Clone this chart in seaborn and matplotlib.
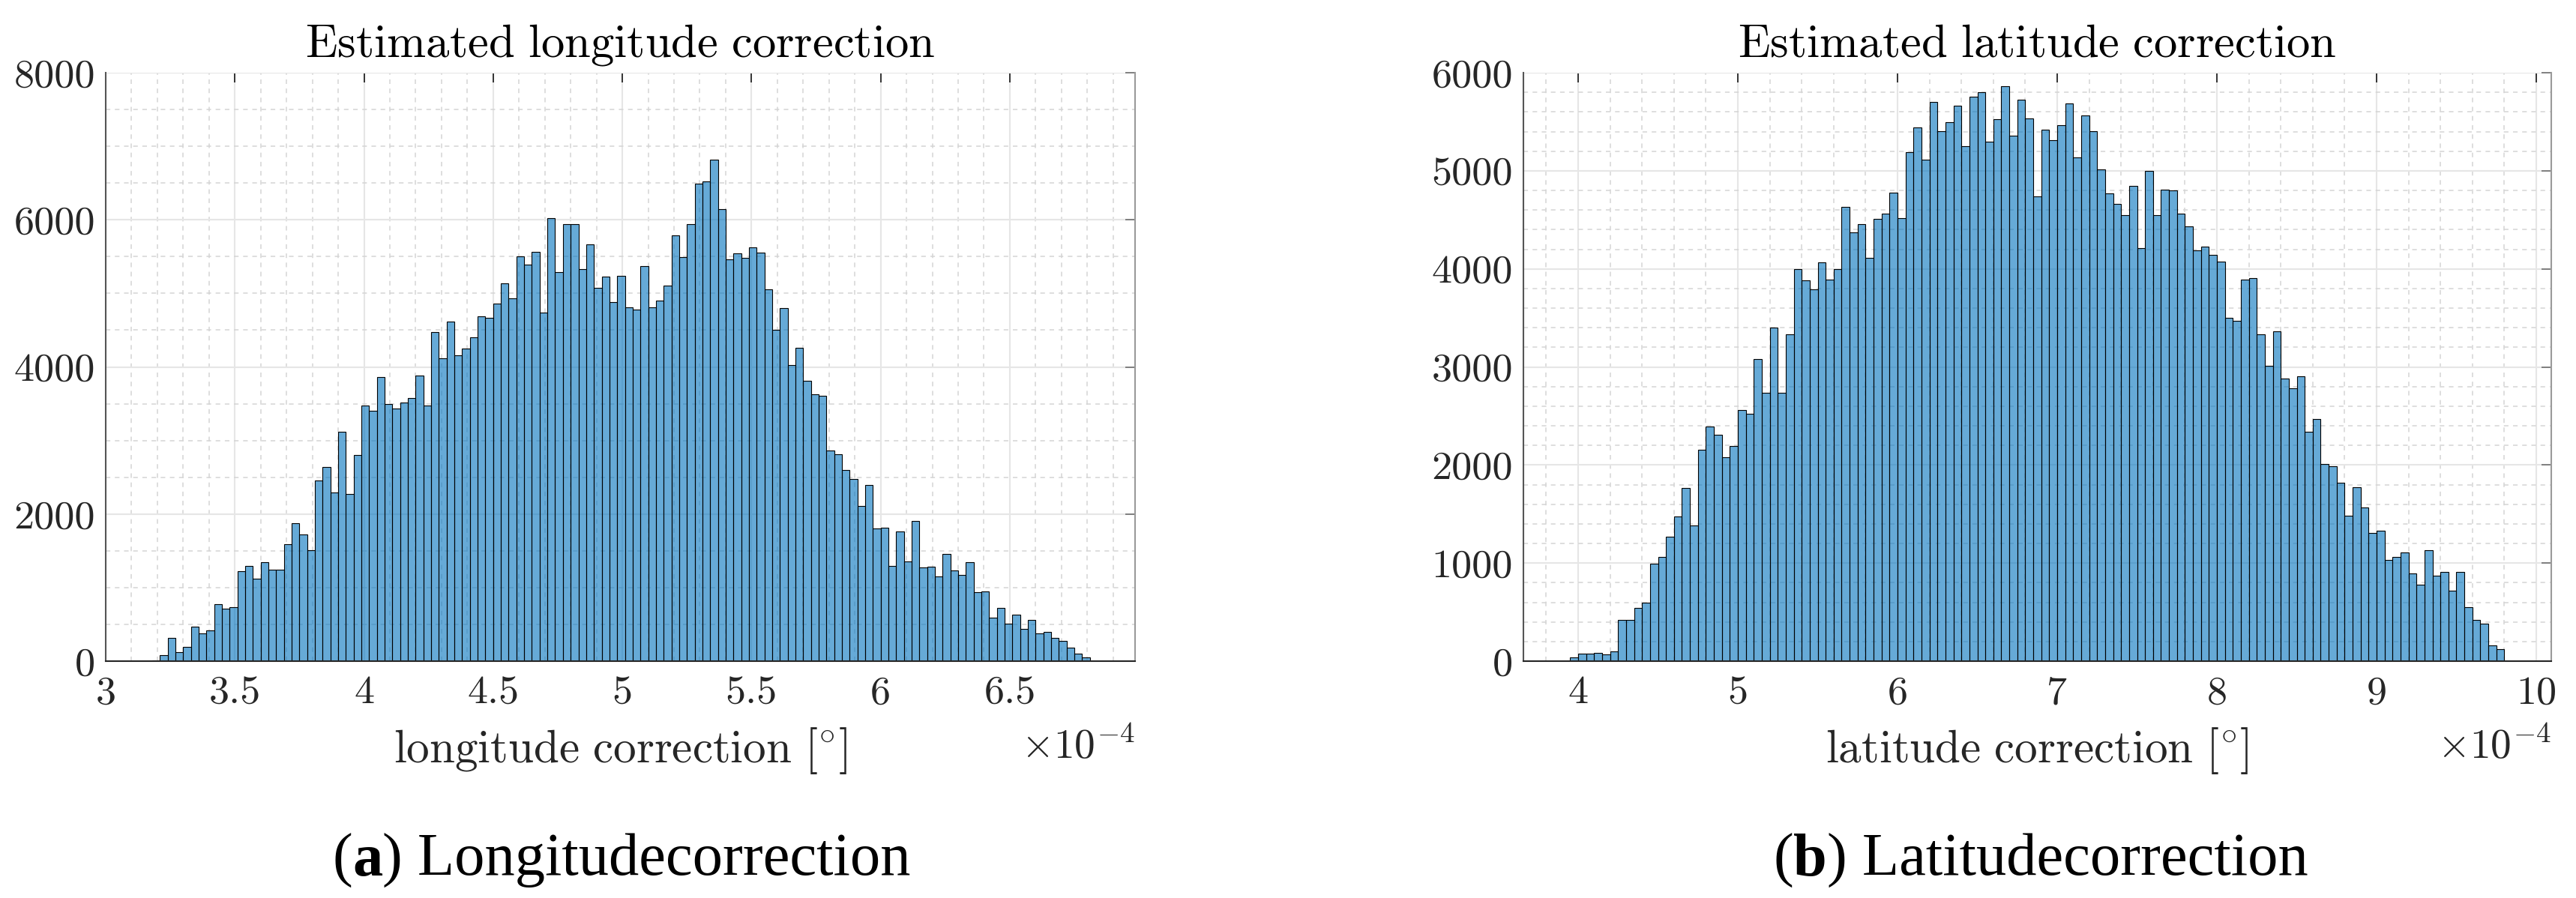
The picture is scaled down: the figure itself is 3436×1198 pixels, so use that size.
import numpy as np
import pandas as pd
import matplotlib
matplotlib.use("Agg")
import matplotlib.pyplot as plt
import seaborn as sns
from matplotlib.ticker import MultipleLocator, FuncFormatter
from matplotlib.offsetbox import TextArea, HPacker, AnchoredOffsetbox

# histogram counts (x in units of 1e-4 deg)
lon_start = 3.18
lon_width = 0.03
lon_counts = [14, 77, 314, 127, 191, 464, 382, 414, 773, 714, 732, 1219, 1292, 1119, 1342,
              1242, 1242, 1588, 1879, 1720, 1510, 2457, 2639, 2293, 3121, 2275, 2798, 3480,
              3399, 3858, 3494, 3435, 3521, 3576, 3881, 3471, 4472, 4113, 4613, 4154, 4249,
              4400, 4691, 4663, 4863, 5132, 4932, 5505, 5391, 5560, 4736, 6028, 5291, 5937,
              5937, 5332, 5664, 5077, 5223, 4877, 5237, 4813, 4777, 5369, 4809, 4900, 5109,
              5787, 5491, 5937, 6492, 6520, 6815, 6142, 5459, 5541, 5482, 5628, 5551, 5050,
              4509, 4804, 4022, 4258, 3808, 3631, 3612, 2862, 2812, 2598, 2475, 2106, 2393,
              1802, 1811, 1292, 1765, 1351, 1906, 1274, 1283, 1156, 1456, 1238, 1174, 1342,
              937, 946, 592, 719, 510, 628, 437, 560, 378, 396, 319, 273, 187, 100, 55]

lat_start = 3.95
lat_width = 0.05
lat_counts = [40, 74, 74, 86, 66, 101, 421, 421, 542, 596, 990, 1060, 1267, 1477, 1765,
              1387, 2155, 2393, 2307, 2077, 2190, 2557, 2525, 3083, 2740, 3402, 2740, 3336,
              3995, 3885, 3788, 4068, 3893, 3998, 4634, 4369, 4454, 4111, 4513, 4564, 4778,
              4521, 5187, 5440, 5113, 5701, 5405, 5499, 5667, 5249, 5756, 5799, 5300, 5526,
              5865, 5355, 5725, 5534, 4739, 5421, 5312, 5464, 5686, 5140, 5565, 5405, 5016,
              4766, 4665, 4548, 4848, 4213, 4996, 4544, 4809, 4801, 4564, 4435, 4189, 4224,
              4139, 4076, 3504, 3472, 3893, 3905, 3336, 3009, 3360, 2884, 2783, 2907, 2342,
              2467, 2011, 1991, 1820, 1481, 1777, 1567, 1309, 1333, 1029, 1064, 1111, 892,
              783, 1134, 869, 908, 721, 908, 549, 417, 386, 164, 125]

titles = ["Estimated longitude correction", "Estimated latitude correction"]
xlabels = ["longitude correction", "latitude correction"]
captions = [("a", " Longitudecorrection"), ("b", " Latitudecorrection")]

sns.set_style("white")
plt.rcParams["font.family"] = ["cmr10"]
plt.rcParams["mathtext.fontset"] = "cm"
plt.rcParams["axes.formatter.use_mathtext"] = True

fig = plt.figure(figsize=(34.37, 11.98), dpi=100)
ax1 = fig.add_axes([0.04102, 0.26377, 0.39948, 0.65526])
ax2 = fig.add_axes([0.59121, 0.26377, 0.39890, 0.65526])

panels = [
    (ax1, lon_start, lon_width, lon_counts, (3.0, 6.985), 0.5, 0.1, 8000, 2000, 500),
    (ax2, lat_start, lat_width, lat_counts, (3.657, 10.094), 1.0, 0.2, 6000, 1000, 200),
]

bar_color = (0.0, 0.447, 0.741)

for i, (ax, start, width, counts, xlim, xmaj, xmin, ytop, ymaj, ymin) in enumerate(panels):
    n = len(counts)
    edges = start + width * np.arange(n + 1)
    df = pd.DataFrame({"x": (edges[:-1] + edges[1:]) / 2, "count": counts})
    sns.histplot(data=df, x="x", weights="count", bins=list(edges), ax=ax, color=bar_color,
                 alpha=0.6, edgecolor="black", linewidth=0.8)
    ax.set_xlim(*xlim)
    ax.set_ylim(0, ytop)
    ax.set_ylabel("")
    ax.set_xlabel("")
    ax.xaxis.set_major_locator(MultipleLocator(xmaj))
    ax.xaxis.set_minor_locator(MultipleLocator(xmin))
    ax.yaxis.set_major_locator(MultipleLocator(ymaj))
    ax.yaxis.set_minor_locator(MultipleLocator(ymin))
    ax.xaxis.set_major_formatter(FuncFormatter(lambda v, p: "%g" % round(v, 3)))
    ax.yaxis.set_major_formatter(FuncFormatter(lambda v, p: "%d" % v))

    ax.set_axisbelow(True)
    ax.grid(which="major", color="#e6e6e6", linewidth=1.5, linestyle="-")
    ax.grid(which="minor", color="#d4d4d4", linewidth=1.1, linestyle=(0, (4, 4)))

    ax.tick_params(which="major", direction="in", length=9.5, width=1.3,
                   top=True, right=True, labelsize=39, colors="#262626")
    ax.tick_params(axis="x", which="major", pad=14)
    ax.tick_params(axis="y", which="major", pad=10, color="#777777")
    ax.tick_params(which="minor", length=0)

    ax.spines["top"].set_visible(False)
    ax.spines["right"].set_color("#9a9a9a")
    ax.spines["left"].set_color("#555555")
    ax.spines["bottom"].set_color("#262626")
    for s in ["right", "left", "bottom"]:
        ax.spines[s].set_linewidth(1.5)

    ax.text(0.5, 1.027, r"$\mathrm{" + titles[i].replace(" ", r"\ ") + "}$",
            transform=ax.transAxes, ha="center", va="baseline", fontsize=45, color="black")
    ax.text(0.5, -0.172, r"$\mathrm{" + xlabels[i].replace(" ", r"\ ") + r"}\ [{}^{\circ}]$",
            transform=ax.transAxes, ha="center", va="baseline", fontsize=44, color="#262626")
    ax.text(1.0, -0.166, r"$\times10^{-4}$", transform=ax.transAxes,
            ha="right", va="baseline", fontsize=40, color="#262626")

    letter, rest = captions[i]
    cap_props = dict(fontsize=58, family="Liberation Serif", color="black")
    box = HPacker(children=[TextArea("(", textprops=cap_props),
                            TextArea(letter, textprops=dict(cap_props, weight="bold")),
                            TextArea(")" + rest, textprops=cap_props)],
                  sep=0, pad=0, align="baseline")
    cx = [0.2412, 0.792][i]
    fig.add_artist(AnchoredOffsetbox(loc="lower center", child=box, frameon=False,
                                     bbox_to_anchor=(cx, 0.0105),
                                     bbox_transform=fig.transFigure, pad=0, borderpad=0))

plt.savefig("out.png", dpi=100)
